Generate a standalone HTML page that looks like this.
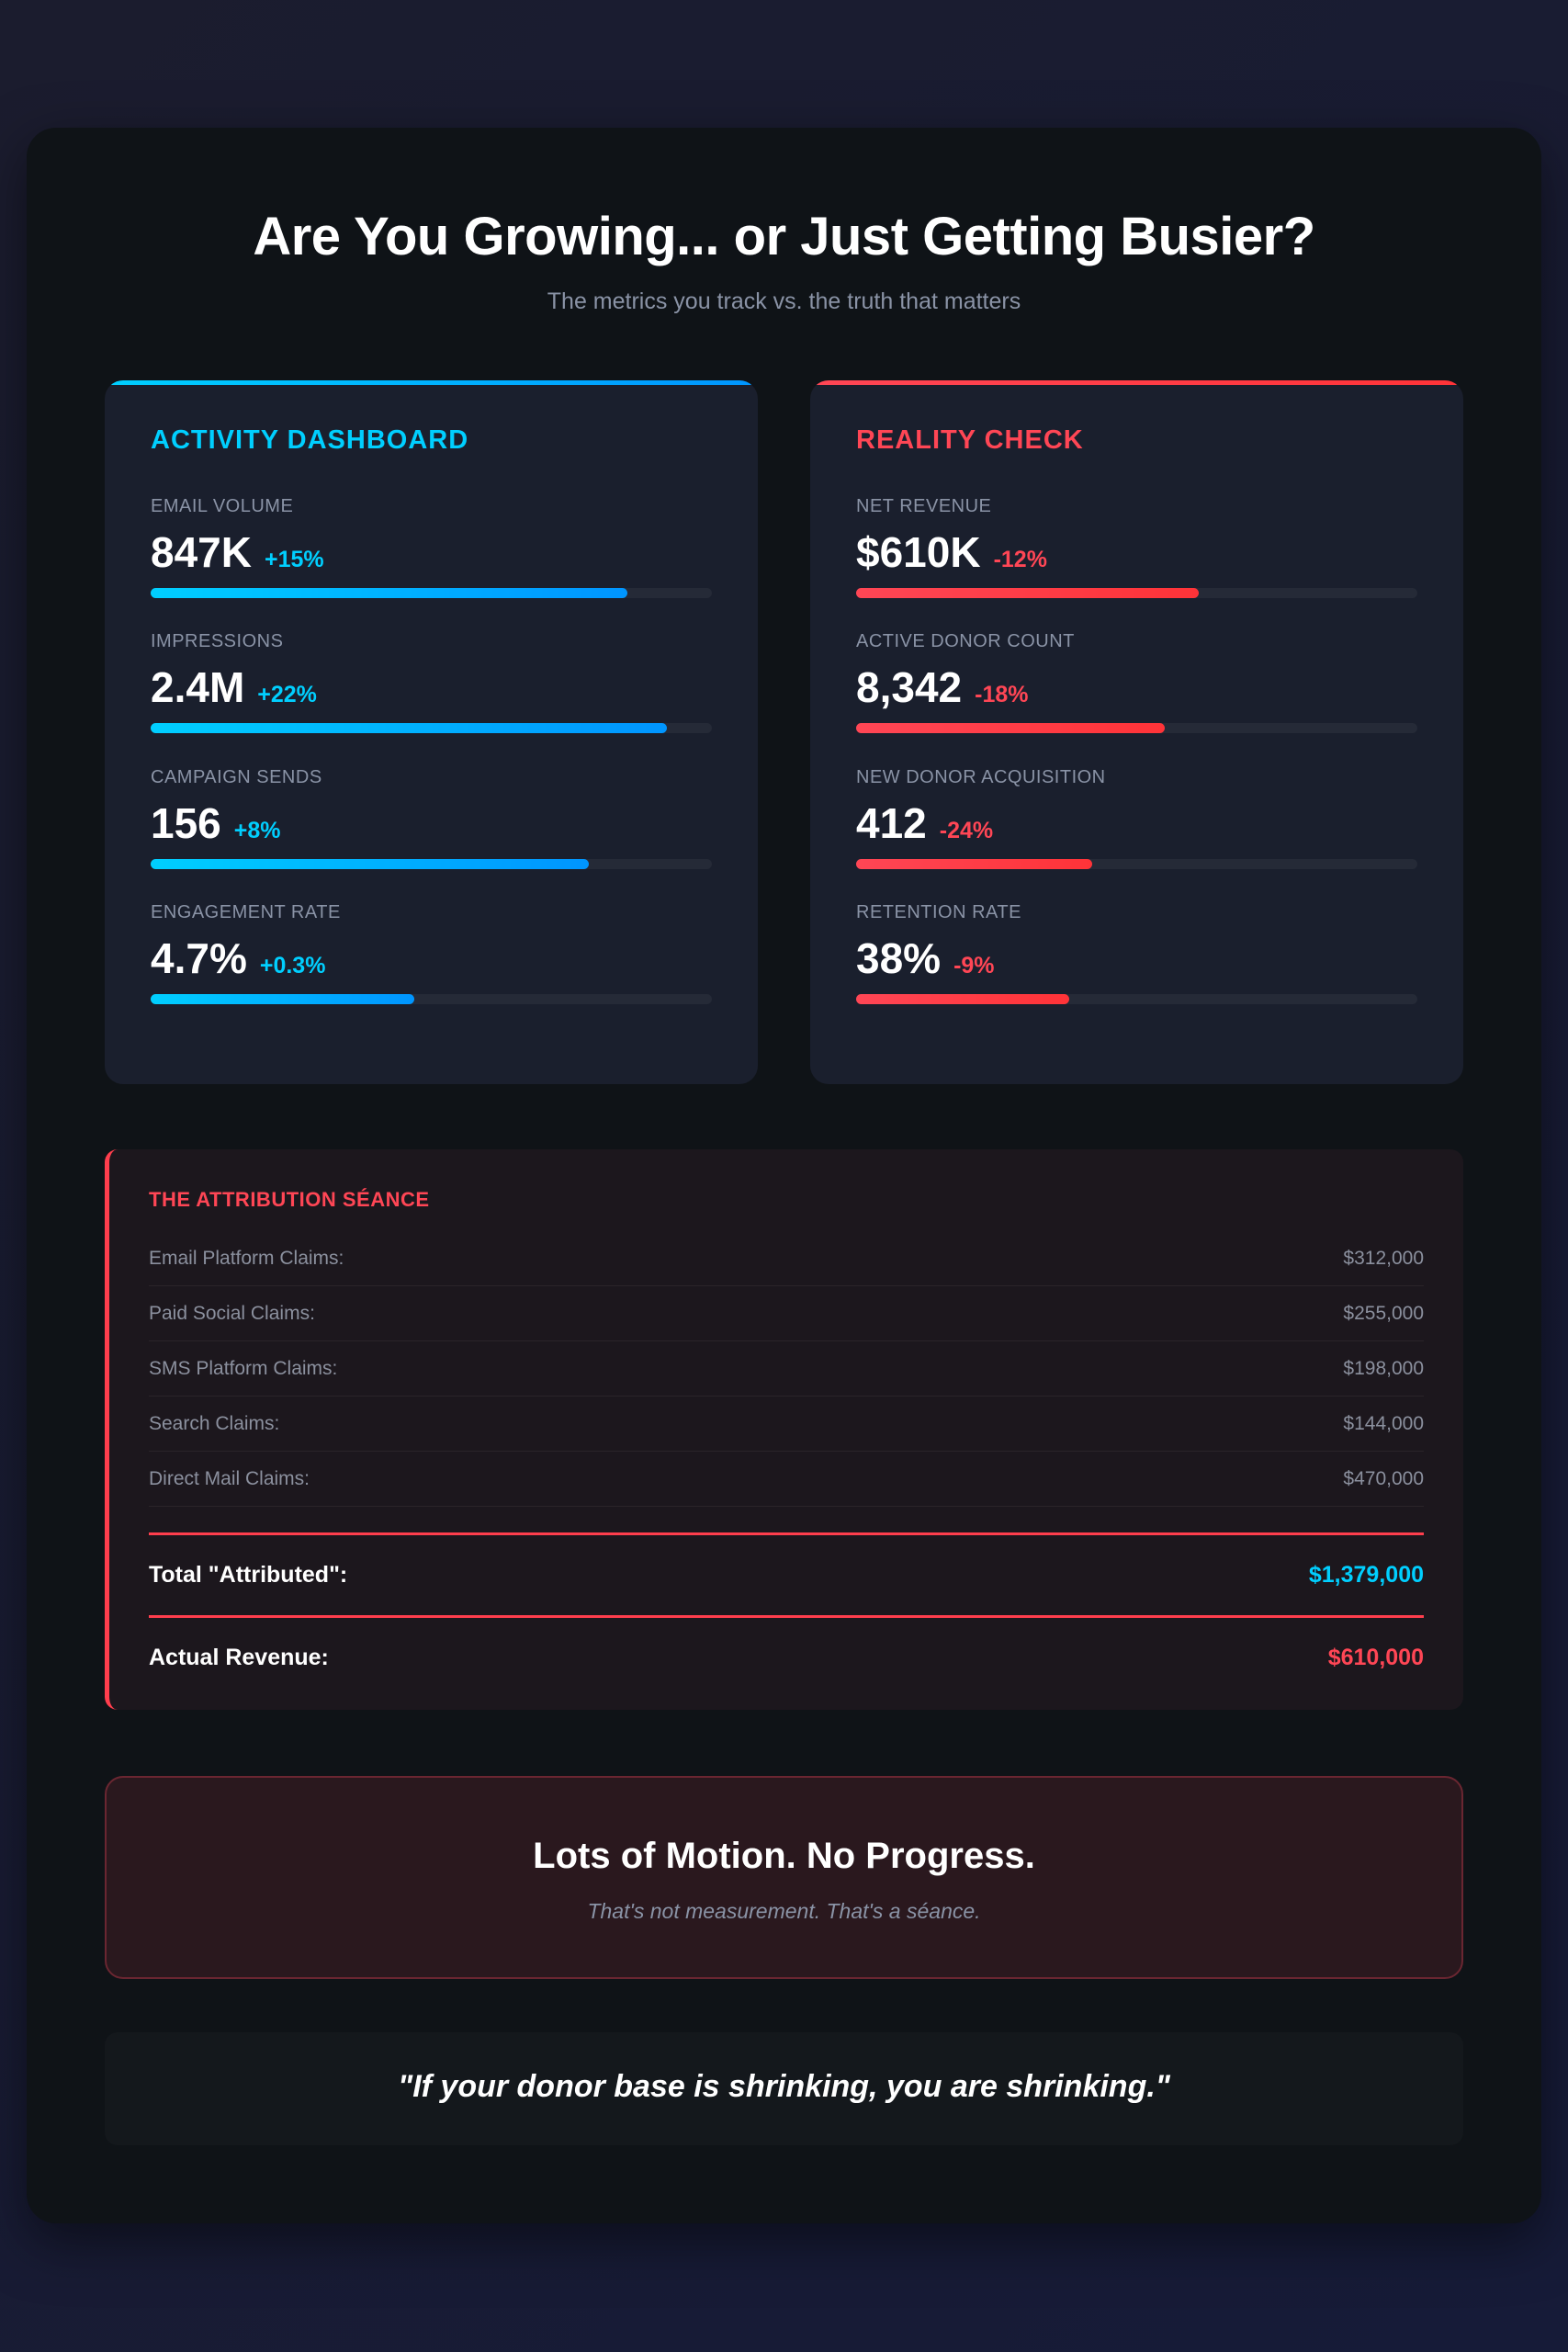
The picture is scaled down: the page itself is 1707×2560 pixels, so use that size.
<!DOCTYPE html>
<html><head><meta charset="utf-8"><style>
*{margin:0;padding:0;box-sizing:border-box}
body{width:1707px;height:2560px;background:linear-gradient(135deg,#1b1c2e,#161b38);font-family:"Liberation Sans",sans-serif;position:relative;overflow:hidden}
.ab{position:absolute}
.wrap{left:29px;top:139px;width:1649px;height:2281px;background:#0f1317;border-radius:32px;box-shadow:0 20px 60px rgba(0,0,0,.5)}
h1{position:absolute;left:0;width:1707px;top:224px;text-align:center;color:#fff;font-size:58px;font-weight:700;letter-spacing:-0.5px}
.sub{left:0;width:1707px;top:314px;text-align:center;color:#8a93a6;font-size:25px}
.card{top:414px;width:711px;height:766px;background:#1a1f2d;border-radius:20px;overflow:hidden}
.card .tb{position:absolute;left:0;top:0;width:100%;height:5px}
.ch{position:absolute;left:50px;top:49px;font-size:29px;font-weight:700;letter-spacing:1px}
.m{position:absolute;left:50px;width:611px}
.lbl{font-size:20px;color:#8a93a6;letter-spacing:.5px;height:24px;position:relative;top:1px}
.val{margin-top:11px;font-size:46px;font-weight:700;color:#fff;height:56px;white-space:nowrap}
.val span{font-size:25px;margin-left:14px}
.bar{margin-top:10px;height:11px;border-radius:6px;background:#252a37;position:relative}
.bar i{position:absolute;left:0;top:0;height:11px;border-radius:6px}
.c i{background:linear-gradient(90deg,#00cfff,#0095ff)}
.r i{background:linear-gradient(90deg,#ff4655,#ff3338)}
.attr{left:114px;top:1251px;width:1479px;height:610px;background:#1c171d;border-radius:14px;border-left:5px solid #ff3e4d}
.row{position:absolute;left:43px;width:1388px;height:60px;border-bottom:1px solid #2a2429;font-size:21px;color:#8b909e;line-height:60px}
.row b{position:absolute;right:0;font-weight:400}
.tot{position:absolute;left:43px;width:1388px;font-size:25px;font-weight:700;color:#fff}
.tot b{position:absolute;right:0}
</style></head><body>
<div class="ab wrap"></div>
<h1>Are You Growing... or Just Getting Busier?</h1>
<div class="ab sub">The metrics you track vs. the truth that matters</div>

<div class="ab card" style="left:114px">
 <div class="tb" style="background:linear-gradient(90deg,#00cfff,#0095ff)"></div>
 <div class="ch" style="color:#00cfff">ACTIVITY DASHBOARD</div>
 <div class="m c" style="top:125px"><div class="lbl">EMAIL VOLUME</div><div class="val">847K<span style="color:#00cfff">+15%</span></div><div class="bar"><i style="width:85%"></i></div></div>
 <div class="m c" style="top:272px"><div class="lbl">IMPRESSIONS</div><div class="val">2.4M<span style="color:#00cfff">+22%</span></div><div class="bar"><i style="width:92%"></i></div></div>
 <div class="m c" style="top:420px"><div class="lbl">CAMPAIGN SENDS</div><div class="val">156<span style="color:#00cfff">+8%</span></div><div class="bar"><i style="width:78%"></i></div></div>
 <div class="m c" style="top:567px"><div class="lbl">ENGAGEMENT RATE</div><div class="val">4.7%<span style="color:#00cfff">+0.3%</span></div><div class="bar"><i style="width:47%"></i></div></div>
</div>

<div class="ab card" style="left:882px">
 <div class="tb" style="background:linear-gradient(90deg,#ff4655,#ff3338)"></div>
 <div class="ch" style="color:#ff4655">REALITY CHECK</div>
 <div class="m r" style="top:125px"><div class="lbl">NET REVENUE</div><div class="val">$610K<span style="color:#ff4655">-12%</span></div><div class="bar"><i style="width:61%"></i></div></div>
 <div class="m r" style="top:272px"><div class="lbl">ACTIVE DONOR COUNT</div><div class="val">8,342<span style="color:#ff4655">-18%</span></div><div class="bar"><i style="width:55%"></i></div></div>
 <div class="m r" style="top:420px"><div class="lbl">NEW DONOR ACQUISITION</div><div class="val">412<span style="color:#ff4655">-24%</span></div><div class="bar"><i style="width:42%"></i></div></div>
 <div class="m r" style="top:567px"><div class="lbl">RETENTION RATE</div><div class="val">38%<span style="color:#ff4655">-9%</span></div><div class="bar"><i style="width:38%"></i></div></div>
</div>

<div class="ab attr">
 <div style="position:absolute;left:43px;top:42px;font-size:22px;font-weight:700;color:#ff4655;letter-spacing:.5px">THE ATTRIBUTION SÉANCE</div>
 <div class="row" style="top:89px">Email Platform Claims:<b>$312,000</b></div>
 <div class="row" style="top:149px">Paid Social Claims:<b>$255,000</b></div>
 <div class="row" style="top:209px">SMS Platform Claims:<b>$198,000</b></div>
 <div class="row" style="top:269px">Search Claims:<b>$144,000</b></div>
 <div class="row" style="top:329px">Direct Mail Claims:<b>$470,000</b></div>
 <div style="position:absolute;left:43px;width:1388px;top:417px;height:3px;background:#ff3e4d"></div>
 <div class="tot" style="top:449px">Total "Attributed":<b style="color:#00cfff">$1,379,000</b></div>
 <div style="position:absolute;left:43px;width:1388px;top:507px;height:3px;background:#ff3e4d"></div>
 <div class="tot" style="top:539px">Actual Revenue:<b style="color:#ff4655">$610,000</b></div>
</div>

<div class="ab" style="left:114px;top:1933px;width:1479px;height:221px;background:#2a181e;border:2px solid #6a2631;border-radius:20px">
 <div style="position:absolute;left:0;width:100%;top:63px;text-align:center;color:#fff;font-size:40px;font-weight:700">Lots of Motion. No Progress.</div>
 <div style="position:absolute;left:0;width:100%;top:132px;text-align:center;color:#8a93a6;font-size:23px;font-style:italic">That's not measurement. That's a séance.</div>
</div>

<div class="ab" style="left:114px;top:2212px;width:1479px;height:123px;background:#14181c;border-radius:14px">
 <div style="position:absolute;left:0;width:100%;top:40px;text-align:center;color:#fff;font-size:34px;font-weight:700;font-style:italic">"If your donor base is shrinking, you are shrinking."</div>
</div>
</body></html>
